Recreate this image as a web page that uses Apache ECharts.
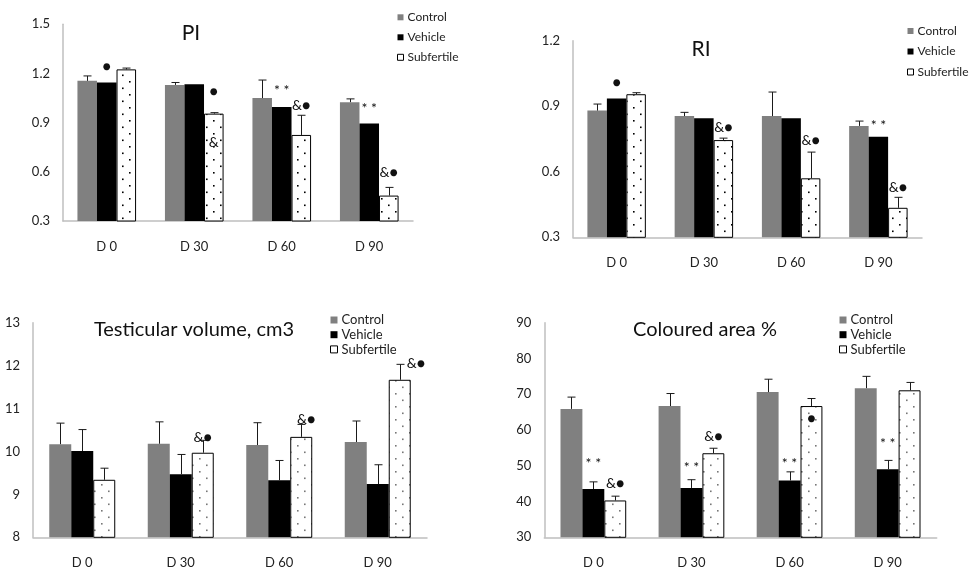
<!DOCTYPE html>
<html><head><meta charset="utf-8">
<script src="https://cdn.jsdelivr.net/npm/echarts@6/dist/echarts.min.js"></script>
<style>html,body{margin:0;padding:0;background:#fff}#c{width:969px;height:572px}</style>
</head><body><div id="c"></div>
<script>
// ---------- DATA ----------
const categories = ['D 0', 'D 30', 'D 60', 'D 90'];
const seriesNames = ['Control', 'Vehicle', 'Subfertile'];

const piControl = [1.155, 1.13, 1.05, 1.025];
const piVehicle = [1.145, 1.135, 0.995, 0.895];
const piSubfertile = [1.225, 0.955, 0.825, 0.455];
const piControlErr = [0.03, 0.015, 0.11, 0.02];
const piVehicleErr = [0, 0, 0, 0];
const piSubfertileErr = [0.008, 0.006, 0.12, 0.05];
// [category index, series index, y value, text, anchor]
const piNotes = [[0, 1, 1.241, '●', 'c'], [1, 2, 1.089, '●', 'c'], [1, 2, 0.776, '&', 'c'],
  [2, 1, 1.111, '**', 'c'], [2, 2, 1.002, '&●', 'c'], [3, 1, 0.996, '**', 'c'], [3, 2, 0.599, '&●', 'c']];

const riControl = [0.88, 0.855, 0.855, 0.81];
const riVehicle = [0.935, 0.845, 0.845, 0.76];
const riSubfertile = [0.955, 0.745, 0.57, 0.435];
const riControlErr = [0.03, 0.017, 0.11, 0.022];
const riVehicleErr = [0, 0, 0, 0];
const riSubfertileErr = [0.007, 0.009, 0.12, 0.048];
const riNotes = [[0, 1, 1.011, '●', 'c'], [1, 2, 0.805, '&●', 'c'], [2, 2, 0.741, '&●', 'c'],
  [3, 1, 0.823, '**', 'c'], [3, 2, 0.530, '&●', 'c']];

const tvControl = [10.17, 10.18, 10.15, 10.22];
const tvVehicle = [10.01, 9.47, 9.33, 9.24];
const tvSubfertile = [9.34, 9.97, 10.34, 11.67];
const tvControlErr = [0.49, 0.51, 0.52, 0.49];
const tvVehicleErr = [0.5, 0.46, 0.46, 0.45];
const tvSubfertileErr = [0.27, 0.29, 0.29, 0.36];
const tvNotes = [[1, 2, 10.337, '&●', 'c'], [2, 2, 10.756, '&●', 'm'], [3, 2, 12.06, '&●', 'r']];

const caControl = [65.9, 66.7, 70.6, 71.7];
const caVehicle = [43.5, 43.8, 45.9, 49.0];
const caSubfertile = [40.3, 53.5, 66.7, 71.1];
const caControlErr = [3.3, 3.5, 3.6, 3.3];
const caVehicleErr = [2.0, 2.3, 2.4, 2.5];
const caSubfertileErr = [1.2, 1.4, 2.1, 2.2];
const caNotes = [[0, 1, 51.33, '**', 'c'], [0, 2, 45.18, '&●', 'c'], [1, 1, 50.2, '**', 'c'],
  [1, 2, 58.05, '&●', 'c'], [2, 1, 51.33, '**', 'c'], [2, 2, 63.08, '●', 'c'], [3, 1, 56.9, '**', 'c']];

const piTicks = {min: 0.3, max: 1.5, interval: 0.3, dec: 1};
const riTicks = {min: 0.3, max: 1.2, interval: 0.3, dec: 1};
const tvTicks = {min: 8, max: 13, interval: 1, dec: 0};
const caTicks = {min: 30, max: 90, interval: 10, dec: 0};

const titles = ['PI', 'RI', 'Testicular volume, cm3', 'Coloured area %'];

// ---------- LAYOUT / STYLE ----------
const FONT = 'Lato, "Open Sans", sans-serif';
const GAP = 0.33;
const panels = [
  {vals: [piControl, piVehicle, piSubfertile], errs: [piControlErr, piVehicleErr, piSubfertileErr], notes: piNotes, ticks: piTicks,
   grid: {left: 63, top: 24.3, width: 350, height: 196.7}, title: {x: 191, y: 23, fs: 21}, legend: {left: 397, top: 10.3, gap: 6, lh: 14, fs: 12, icon: 6},
   dot: '#000'},
  {vals: [riControl, riVehicle, riSubfertile], errs: [riControlErr, riVehicleErr, riSubfertileErr], notes: riNotes, ticks: riTicks,
   grid: {left: 573, top: 40.7, width: 349, height: 196.6}, title: {x: 701, y: 39, fs: 21}, legend: {left: 907, top: 24, gap: 6.5, lh: 14, fs: 12, icon: 6},
   dot: '#000'},
  {vals: [tvControl, tvVehicle, tvSubfertile], errs: [tvControlErr, tvVehicleErr, tvSubfertileErr], notes: tvNotes, ticks: tvTicks,
   grid: {left: 33, top: 322.7, width: 394, height: 214.6}, title: {x: 194, y: 320, fs: 20}, legend: {left: 330, top: 313, gap: 0.7, lh: 14, fs: 13, icon: 7},
   dot: '#777'},
  {vals: [caControl, caVehicle, caSubfertile], errs: [caControlErr, caVehicleErr, caSubfertileErr], notes: caNotes, ticks: caTicks,
   grid: {left: 544.3, top: 322.7, width: 392.4, height: 214.6}, title: {x: 705, y: 320, fs: 20}, legend: {left: 839, top: 313, gap: 0.7, lh: 14, fs: 13, icon: 7},
   dot: '#777'}
];

function dotPattern(color) {
  const c = document.createElement('canvas');
  c.width = 14; c.height = 13;
  const g = c.getContext('2d');
  g.fillStyle = '#fff'; g.fillRect(0, 0, 14, 13);
  g.fillStyle = color;
  g.fillRect(3, 3, 1.6, 1.6);
  g.fillRect(10, 9.5, 1.6, 1.6);
  return c;
}

const option = {
  animation: false,
  backgroundColor: '#fff',
  textStyle: {fontFamily: FONT},
  title: [], legend: [], grid: [], xAxis: [], yAxis: [], series: []
};

panels.forEach((p, i) => {
  option.grid.push(Object.assign({containLabel: false}, p.grid));
  option.title.push({text: titles[i], left: p.title.x, top: p.title.y, textAlign: 'center', padding: 0,
    textStyle: {fontFamily: FONT, fontSize: p.title.fs, fontWeight: 'normal', color: '#111'}});
  option.legend.push({
    orient: 'vertical', left: p.legend.left, top: p.legend.top, itemGap: p.legend.gap, padding: 0,
    itemWidth: p.legend.icon, itemHeight: p.legend.icon, icon: 'rect', selectedMode: false,
    textStyle: {fontFamily: FONT, fontSize: p.legend.fs, lineHeight: p.legend.lh, color: '#222', padding: [0, 0, 0, -1]},
    data: [
      {name: 'Control', itemStyle: {color: '#808080'}},
      {name: 'Vehicle', itemStyle: {color: '#000'}},
      {name: 'Subfertile', itemStyle: {color: '#fff', borderColor: '#000', borderWidth: 1}}
    ]
  });
  option.xAxis.push({
    type: 'category', gridIndex: i, data: categories,
    axisLine: {lineStyle: {color: '#bfbfbf', width: 1.5}}, axisTick: {show: false},
    axisLabel: {fontFamily: FONT, fontSize: 13, color: '#222', margin: 19}
  });
  option.yAxis.push({
    type: 'value', gridIndex: i, min: p.ticks.min, max: p.ticks.max, interval: p.ticks.interval,
    axisLine: {show: true, lineStyle: {color: '#bfbfbf', width: 1.5}}, axisTick: {show: false}, splitLine: {show: false},
    axisLabel: {fontFamily: FONT, fontSize: 13, color: '#222', margin: 13,
      formatter: v => Number(v).toFixed(p.ticks.dec)}
  });
  const pattern = {image: dotPattern(p.dot), repeat: 'repeat'};
  const styles = [
    {color: '#808080'},
    {color: '#000'},
    {color: pattern, borderColor: '#000', borderWidth: 1}
  ];
  seriesNames.forEach((name, s) => {
    option.series.push({
      type: 'bar', name, xAxisIndex: i, yAxisIndex: i, data: p.vals[s],
      barGap: '0%', barCategoryGap: (GAP * 100) + '%', itemStyle: styles[s], z: 2
    });
  });
  const errData = [];
  for (let s = 0; s < 3; s++) for (let c = 0; c < categories.length; c++) errData.push([c, p.vals[s][c], p.errs[s][c], s]);
  option.series.push({
    type: 'custom', name: 'err' + i, xAxisIndex: i, yAxisIndex: i, data: errData, z: 3, silent: true,
    encode: {x: 0, y: 1},
    renderItem: (params, api) => {
      const c = api.value(0), v = api.value(1), e = api.value(2), s = api.value(3);
      if (!(e > 0)) return null;
      const bw = api.size([1, 0])[0];
      const barW = bw * (1 - GAP) / 3;
      const p0 = api.coord([c, v]), p1 = api.coord([c, v + e]);
      const x = Math.round(p0[0] + (s - 1) * barW) + 0.5;
      const st = {stroke: '#1a1a1a', lineWidth: 1};
      return {type: 'group', children: [
        {type: 'line', shape: {x1: x, y1: p0[1], x2: x, y2: p1[1]}, style: st},
        {type: 'line', shape: {x1: x - 4, y1: p1[1], x2: x + 4, y2: p1[1]}, style: st}
      ]};
    }
  });
  const notes = p.notes;
  option.series.push({
    type: 'custom', name: 'notes' + i, xAxisIndex: i, yAxisIndex: i, z: 4, silent: true,
    data: notes.map(n => [n[0], n[2]]), encode: {x: 0, y: 1},
    renderItem: (params, api) => {
      const n = notes[params.dataIndex];
      const bw = api.size([1, 0])[0];
      const barW = bw * (1 - GAP) / 3;
      const pt = api.coord([n[0], n[2]]);
      let x = pt[0] + (n[1] - 1) * barW;
      let align = 'center';
      if (n[4] === 'r') { x += 7; align = 'left'; }
      if (n[4] === 'm') { x += 5; }
      const star = n[3] === '**';
      return {type: 'text', x, y: star ? pt[1] + 2 : pt[1], style: {
        text: star ? '* *' : n[3], fill: '#111', align, verticalAlign: 'middle',
        font: '14px ' + FONT
      }};
    }
  });
});

const chart = echarts.init(document.getElementById('c'), null, {renderer: 'canvas'});
chart.setOption(option);
</script>
</body></html>
